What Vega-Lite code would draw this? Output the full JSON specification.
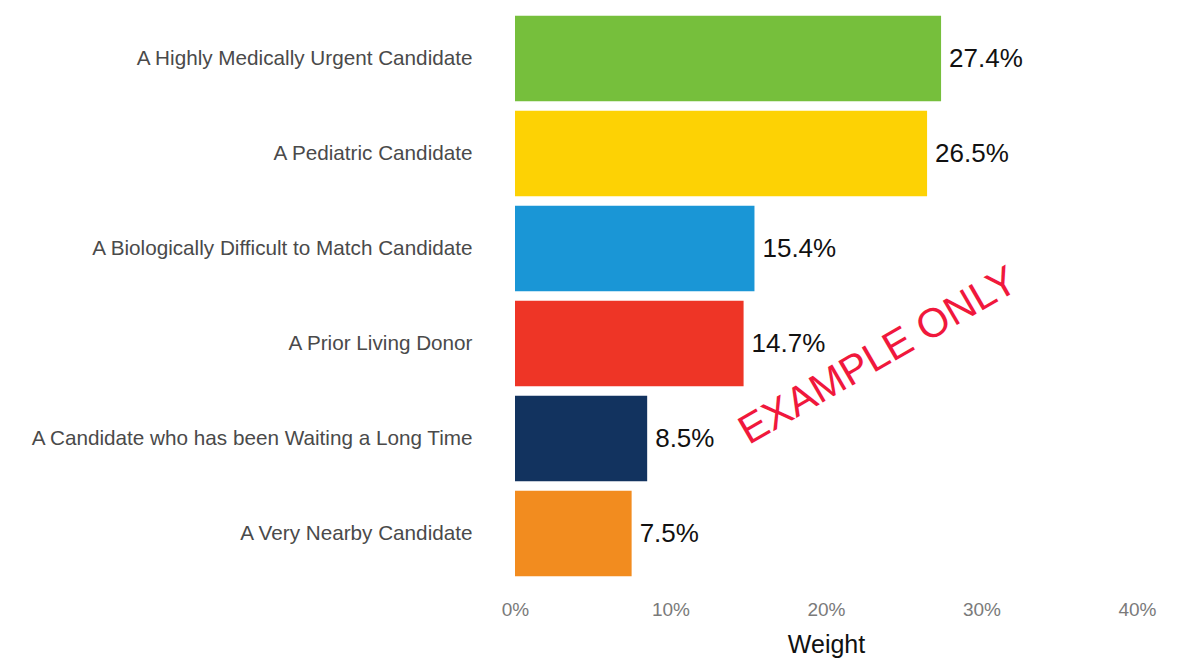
{
  "$schema": "https://vega.github.io/schema/vega-lite/v6.json",
  "autosize": {"type": "none"},
  "width": 622,
  "height": 570,
  "padding": {"left": 515, "top": 11, "right": 46, "bottom": 89},
  "background": "white",
  "config": {
    "view": {"stroke": null},
    "font": "Liberation Sans"
  },
  "layer": [
    {
      "data": {
        "values": [
          {"criterion": "A Highly Medically Urgent Candidate", "weight": 0.274},
          {"criterion": "A Pediatric Candidate", "weight": 0.265},
          {"criterion": "A Biologically Difficult to Match Candidate", "weight": 0.154},
          {"criterion": "A Prior Living Donor", "weight": 0.147},
          {"criterion": "A Candidate who has been Waiting a Long Time", "weight": 0.085},
          {"criterion": "A Very Nearby Candidate", "weight": 0.075}
        ]
      },
      "encoding": {
        "y": {
          "field": "criterion",
          "type": "nominal",
          "sort": null,
          "title": null,
          "scale": {"paddingInner": 0.1, "paddingOuter": 0.05},
          "axis": {
            "ticks": false,
            "domain": false,
            "labelPadding": 43,
            "labelFontSize": 20.7,
            "labelColor": "#4a4a4a",
            "labelLimit": 0
          }
        },
        "x": {
          "field": "weight",
          "type": "quantitative",
          "title": "Weight",
          "scale": {"domain": [0, 0.4]},
          "axis": {
            "format": ".0%",
            "values": [0, 0.1, 0.2, 0.3, 0.4],
            "grid": false,
            "ticks": false,
            "domain": false,
            "labelFlush": false,
            "labelPadding": 19,
            "labelFontSize": 19,
            "labelColor": "#7a7a7a",
            "titleFontSize": 25,
            "titleFontWeight": "normal",
            "titleColor": "#111111",
            "titlePadding": 13
          }
        }
      },
      "layer": [
        {
          "mark": {"type": "bar"},
          "encoding": {
            "color": {
              "field": "criterion",
              "type": "nominal",
              "legend": null,
              "scale": {
                "domain": [
                  "A Highly Medically Urgent Candidate",
                  "A Pediatric Candidate",
                  "A Biologically Difficult to Match Candidate",
                  "A Prior Living Donor",
                  "A Candidate who has been Waiting a Long Time",
                  "A Very Nearby Candidate"
                ],
                "range": ["#76bf3c", "#fdd204", "#1a96d6", "#ee3526", "#12335f", "#f28c1f"]
              }
            }
          }
        },
        {
          "mark": {"type": "text", "align": "left", "baseline": "middle", "dx": 8, "fontSize": 26, "color": "#111111"},
          "encoding": {
            "text": {"field": "weight", "type": "quantitative", "format": ".1%"}
          }
        }
      ]
    },
    {
      "data": {"values": [{"note": "EXAMPLE ONLY", "xpos": 0.229, "criterion": "A Prior Living Donor"}]},
      "mark": {"type": "text", "align": "center", "baseline": "middle", "angle": -30, "fontSize": 41, "color": "#f0183c", "dy": 15},
      "encoding": {
        "x": {"field": "xpos", "type": "quantitative"},
        "y": {"field": "criterion", "type": "nominal", "sort": null},
        "text": {"field": "note", "type": "nominal"}
      }
    }
  ]
}
